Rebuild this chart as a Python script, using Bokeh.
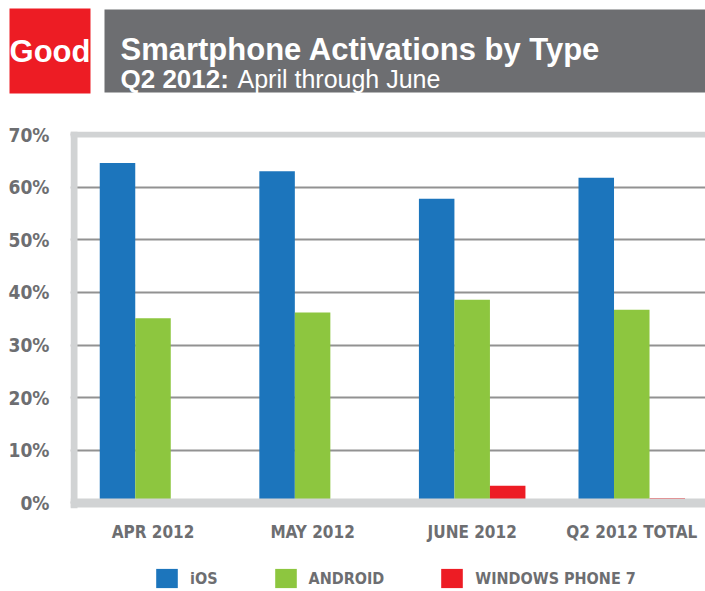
from bokeh.plotting import figure
from bokeh.models import (Range1d, FixedTicker, Span, Legend, LegendItem,
                          ColumnDataSource, Label)
from bokeh.layouts import column
from bokeh.transform import dodge
from bokeh.embed import file_html
from bokeh.resources import INLINE

# ---------------- data ----------------
months = ["APR 2012", "MAY 2012", "JUNE 2012", "Q2 2012 TOTAL"]
ios = [64.6, 63.0, 57.8, 61.8]
android = [35.1, 36.2, 38.6, 36.7]
wp7 = [0.0, 0.0, 3.3, 0.9]
series_names = ["iOS", "ANDROID", "WINDOWS PHONE 7"]
y_ticks = [0, 10, 20, 30, 40, 50, 60, 70]
y_tick_labels = ["0%", "10%", "20%", "30%", "40%", "50%", "60%", "70%"]
title_text = "Smartphone Activations by Type"
subtitle_bold = "Q2 2012:"
subtitle_rest = "April through June"
logo_text = "Good"

# ---------------- styles ----------------
BLUE = "#1c75bc"
GREEN = "#8dc63f"
RED = "#ed1c24"
BANNER = "#6d6e71"
BORDER = "#d1d3d4"
GRID = "#929292"
LABEL = "#6d6e71"
COND = "DejaVu Sans Condensed"
SANS = "Liberation Sans"
W = 705

# ---------------- header ----------------
h = figure(width=W, height=100, x_range=Range1d(0, W), y_range=Range1d(100, 0),
           output_backend="svg", toolbar_location=None,
           x_axis_type=None, y_axis_type=None, frame_align=False,
           min_border_left=0, min_border_right=0, min_border_top=0, min_border_bottom=0)
h.outline_line_color = None
h.grid.visible = False
h.quad(left=[9], right=[90], top=[8], bottom=[93], color=RED, line_color=None)
h.quad(left=[104], right=[W], top=[9], bottom=[92], color=BANNER, line_color=None)
h.add_layout(Label(x=49.5, y=51, text=logo_text, text_font=SANS, text_font_size="31px",
                   text_font_style="bold", text_color="white", text_align="center",
                   text_baseline="alphabetic"))
h.add_layout(Label(x=120, y=49, text=title_text, text_font=SANS, text_font_size="31px",
                   text_font_style="bold", text_color="white", text_baseline="alphabetic"))
h.add_layout(Label(x=120, y=78, text=subtitle_bold, text_font=SANS, text_font_size="26px",
                   text_font_style="bold", text_color="white", text_baseline="alphabetic"))
h.add_layout(Label(x=237, y=78, text=subtitle_rest, text_font=SANS, text_font_size="25px",
                   text_color="white", text_baseline="alphabetic"))

# ---------------- chart ----------------
xs = list(range(len(months)))
src = ColumnDataSource(dict(x=xs, ios=ios, android=android, wp7=wp7))

p = figure(width=W, height=450, x_range=Range1d(-0.517, 3.462), y_range=Range1d(-1.045, 70.57),
           output_backend="svg", toolbar_location=None, frame_align=False,
           min_border_left=70, min_border_right=0, min_border_top=31, min_border_bottom=42)
p.outline_line_color = None

bw = 0.2225
r1 = p.vbar(x=dodge("x", -bw), top="ios", width=bw, source=src, color=BLUE, line_color=None)
r2 = p.vbar(x=dodge("x", 0.0), top="android", width=bw, source=src, color=GREEN, line_color=None)
r3 = p.vbar(x=dodge("x", bw), top="wp7", width=bw, source=src, color=RED, line_color=None)

# frame borders
p.add_layout(Span(location=-0.495, dimension="height", line_color=BORDER, line_width=7))
p.add_layout(Span(location=70, dimension="width", line_color=BORDER, line_width=6))
p.add_layout(Span(location=0, dimension="width", line_color=BORDER, line_width=9))

p.xgrid.visible = False
p.ygrid.ticker = FixedTicker(ticks=y_ticks)
p.ygrid.grid_line_color = GRID
p.ygrid.grid_line_width = 2

p.yaxis.ticker = FixedTicker(ticks=y_ticks)
p.yaxis.major_label_overrides = {t: l for t, l in zip(y_ticks, y_tick_labels)}
p.xaxis.ticker = FixedTicker(ticks=xs)
p.xaxis.major_label_overrides = {x: m for x, m in zip(xs, months)}

for ax in (p.xaxis, p.yaxis):
    ax.axis_line_color = None
    ax.major_tick_line_color = None
    ax.minor_tick_line_color = None
    ax.major_label_text_font = COND
    ax.major_label_text_font_style = "bold"
    ax.major_label_text_color = LABEL
p.yaxis.major_label_text_font_size = "19px"
p.yaxis.major_label_standoff = 15
p.xaxis.major_label_text_font_size = "17px"
p.xaxis.major_label_standoff = 7

# ---------------- legend strip ----------------
lg = figure(width=W, height=41, x_range=Range1d(0, 1), y_range=Range1d(0, 1),
            output_backend="svg", toolbar_location=None,
            x_axis_type=None, y_axis_type=None, frame_align=False,
            min_border_left=0, min_border_right=0, min_border_top=0, min_border_bottom=0)
lg.outline_line_color = None
lg.grid.visible = False
colors = [BLUE, GREEN, RED]
items = []
for name, c in zip(series_names, colors):
    rr = lg.vbar(x=[10], top=[1], width=0.1, color=c, line_color=None)
    items.append(LegendItem(label=name, renderers=[rr]))
legend = Legend(items=items, orientation="horizontal", location=(153, 1),
                glyph_width=27, glyph_height=24, label_standoff=10, spacing=54,
                padding=0, margin=0, border_line_color=None, background_fill_alpha=0,
                label_text_font=COND, label_text_font_size="16px",
                label_text_font_style="bold", label_text_color=LABEL)
lg.add_layout(legend)

layout = column(h, p, lg, spacing=0)
open("out.html", "w").write(file_html(layout, INLINE))
